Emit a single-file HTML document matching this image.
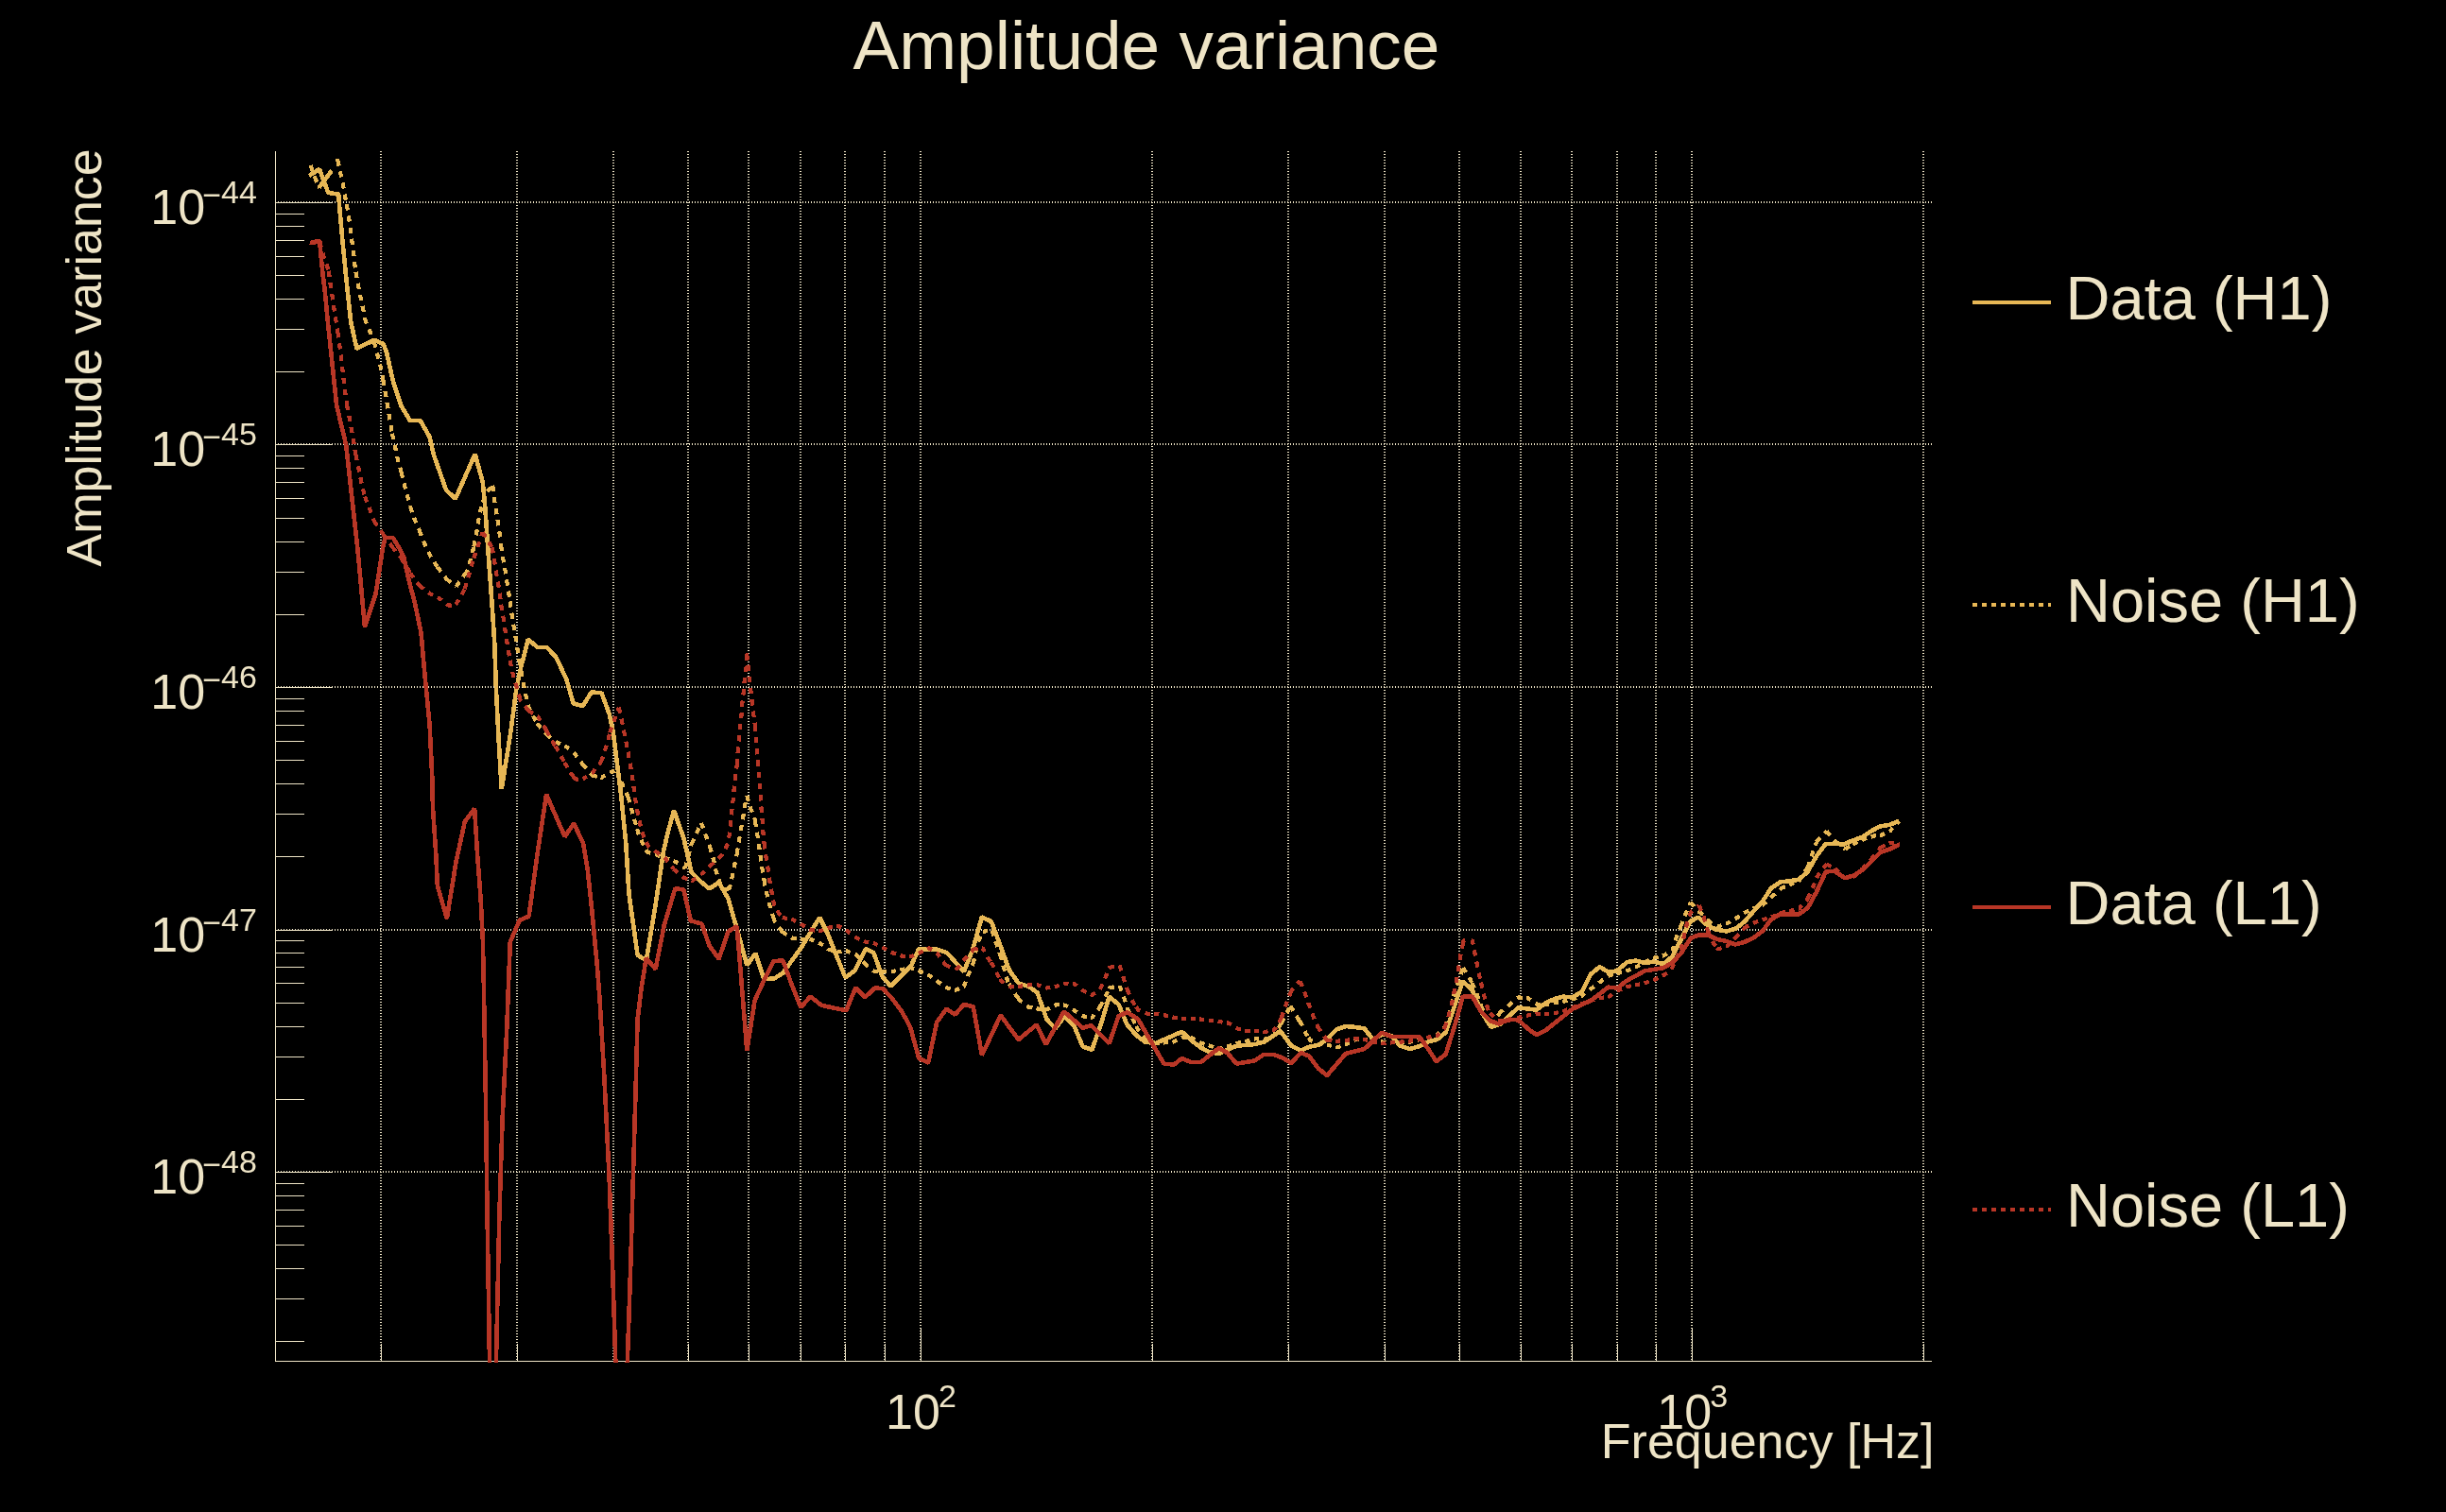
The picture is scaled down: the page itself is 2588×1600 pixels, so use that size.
<!DOCTYPE html>
<html lang="en"><head><meta charset="utf-8"><title>Amplitude variance</title>
<style>html,body{margin:0;padding:0;background:#000;}body{width:2588px;height:1600px;overflow:hidden;}svg{display:block;will-change:transform;}text{font-family:'Liberation Sans', sans-serif;fill:#EEE4C6;}</style>
</head><body>
<svg width="2588" height="1600" viewBox="0 0 2588 1600">
<rect x="0" y="0" width="2588" height="1600" fill="#000"/>
<g shape-rendering="crispEdges" stroke="#EEE4C6" stroke-width="2" stroke-dasharray="1 2" fill="none">
<line x1="403" y1="160" x2="403" y2="1440"/>
<line x1="547" y1="160" x2="547" y2="1440"/>
<line x1="649" y1="160" x2="649" y2="1440"/>
<line x1="728" y1="160" x2="728" y2="1440"/>
<line x1="792" y1="160" x2="792" y2="1440"/>
<line x1="847" y1="160" x2="847" y2="1440"/>
<line x1="894" y1="160" x2="894" y2="1440"/>
<line x1="936" y1="160" x2="936" y2="1440"/>
<line x1="974" y1="160" x2="974" y2="1440"/>
<line x1="1219" y1="160" x2="1219" y2="1440"/>
<line x1="1363" y1="160" x2="1363" y2="1440"/>
<line x1="1465" y1="160" x2="1465" y2="1440"/>
<line x1="1544" y1="160" x2="1544" y2="1440"/>
<line x1="1609" y1="160" x2="1609" y2="1440"/>
<line x1="1663" y1="160" x2="1663" y2="1440"/>
<line x1="1711" y1="160" x2="1711" y2="1440"/>
<line x1="1752" y1="160" x2="1752" y2="1440"/>
<line x1="1790" y1="160" x2="1790" y2="1440"/>
<line x1="2035" y1="160" x2="2035" y2="1440"/>
<line x1="291" y1="214" x2="2044" y2="214"/>
<line x1="291" y1="470" x2="2044" y2="470"/>
<line x1="291" y1="727" x2="2044" y2="727"/>
<line x1="291" y1="984" x2="2044" y2="984"/>
<line x1="291" y1="1240" x2="2044" y2="1240"/>
</g>
<g shape-rendering="crispEdges" fill="#EEE4C6">
<rect x="291" y="160" width="1" height="1281"/>
<rect x="291" y="1440" width="1753" height="1"/>
<rect x="403" y="1422" width="1" height="19"/>
<rect x="547" y="1422" width="1" height="19"/>
<rect x="649" y="1422" width="1" height="19"/>
<rect x="728" y="1422" width="1" height="19"/>
<rect x="792" y="1422" width="1" height="19"/>
<rect x="847" y="1422" width="1" height="19"/>
<rect x="894" y="1422" width="1" height="19"/>
<rect x="936" y="1422" width="1" height="19"/>
<rect x="974" y="1405" width="1" height="36"/>
<rect x="1219" y="1422" width="1" height="19"/>
<rect x="1363" y="1422" width="1" height="19"/>
<rect x="1465" y="1422" width="1" height="19"/>
<rect x="1544" y="1422" width="1" height="19"/>
<rect x="1609" y="1422" width="1" height="19"/>
<rect x="1663" y="1422" width="1" height="19"/>
<rect x="1711" y="1422" width="1" height="19"/>
<rect x="1752" y="1422" width="1" height="19"/>
<rect x="1790" y="1405" width="1" height="36"/>
<rect x="2035" y="1422" width="1" height="19"/>
<rect x="292" y="214" width="60" height="1"/>
<rect x="292" y="226" width="30" height="1"/>
<rect x="292" y="239" width="30" height="1"/>
<rect x="292" y="254" width="30" height="1"/>
<rect x="292" y="271" width="30" height="1"/>
<rect x="292" y="291" width="30" height="1"/>
<rect x="292" y="316" width="30" height="1"/>
<rect x="292" y="348" width="30" height="1"/>
<rect x="292" y="393" width="30" height="1"/>
<rect x="292" y="470" width="60" height="1"/>
<rect x="292" y="482" width="30" height="1"/>
<rect x="292" y="495" width="30" height="1"/>
<rect x="292" y="510" width="30" height="1"/>
<rect x="292" y="527" width="30" height="1"/>
<rect x="292" y="548" width="30" height="1"/>
<rect x="292" y="573" width="30" height="1"/>
<rect x="292" y="605" width="30" height="1"/>
<rect x="292" y="650" width="30" height="1"/>
<rect x="292" y="727" width="60" height="1"/>
<rect x="292" y="739" width="30" height="1"/>
<rect x="292" y="752" width="30" height="1"/>
<rect x="292" y="767" width="30" height="1"/>
<rect x="292" y="784" width="30" height="1"/>
<rect x="292" y="804" width="30" height="1"/>
<rect x="292" y="829" width="30" height="1"/>
<rect x="292" y="861" width="30" height="1"/>
<rect x="292" y="906" width="30" height="1"/>
<rect x="292" y="984" width="60" height="1"/>
<rect x="292" y="995" width="30" height="1"/>
<rect x="292" y="1008" width="30" height="1"/>
<rect x="292" y="1023" width="30" height="1"/>
<rect x="292" y="1040" width="30" height="1"/>
<rect x="292" y="1061" width="30" height="1"/>
<rect x="292" y="1086" width="30" height="1"/>
<rect x="292" y="1118" width="30" height="1"/>
<rect x="292" y="1163" width="30" height="1"/>
<rect x="292" y="1240" width="60" height="1"/>
<rect x="292" y="1252" width="30" height="1"/>
<rect x="292" y="1265" width="30" height="1"/>
<rect x="292" y="1280" width="30" height="1"/>
<rect x="292" y="1297" width="30" height="1"/>
<rect x="292" y="1317" width="30" height="1"/>
<rect x="292" y="1342" width="30" height="1"/>
<rect x="292" y="1374" width="30" height="1"/>
<rect x="292" y="1419" width="30" height="1"/>
</g>
<defs><clipPath id="fc"><rect x="0" y="0" width="2588" height="1442"/></clipPath></defs>
<g fill="none" stroke-width="4.6" stroke-linejoin="bevel" stroke-linecap="butt" shape-rendering="crispEdges" clip-path="url(#fc)">
<polyline stroke="#E7B755" points="327.0,186.0 338.0,179.0 347.3,204.0 358.2,205.6 358.9,215.6 362.2,252.6 366.1,292.3 371.1,340.0 377.4,368.9 395.9,359.8 405.8,364.0 409.1,373.1 415.7,402.8 424.8,430.1 433.9,445.0 444.7,445.0 454.6,462.4 458.7,480.6 472.0,518.6 481.9,527.7 502.6,480.6 510.8,510.3 513.4,538.4 516.2,580.0 519.9,629.6 523.2,679.2 524.9,728.8 527.4,778.4 530.7,835.0 539.8,778.4 546.4,728.8 551.3,705.7 558.8,676.7 568.7,685.0 578.6,685.0 588.5,695.7 599.3,718.9 606.7,744.5 616.7,747.0 625.8,732.5 636.5,733.3 644.8,755.9 648.9,775.8 653.1,808.8 657.2,841.9 662.2,891.5 665.5,946.1 674.6,1010.6 683.7,1016.4 692.8,962.7 701.9,901.5 706.8,880.0 713.1,857.6 720.9,880.0 723.3,886.6 731.6,923.0 742.4,933.7 750.6,940.4 760.6,933.7 770.5,951.1 779.6,982.5 790.3,1021.4 799.4,1009.0 808.5,1036.3 819.3,1035.4 828.4,1029.6 847.4,1003.2 867.2,970.9 875.5,987.5 894.5,1034.6 904.4,1027.2 916.0,1004.0 924.3,1008.2 933.4,1033.0 942.4,1043.7 963.9,1022.2 972.2,1004.0 992.1,1004.8 1002.0,1008.2 1019.8,1028.2 1028.9,1005.8 1038.9,970.3 1048.8,975.2 1057.9,999.2 1067.8,1026.5 1077.7,1040.6 1088.5,1043.9 1097.6,1050.5 1107.5,1078.6 1116.6,1088.5 1126.5,1075.3 1136.4,1085.2 1145.5,1107.5 1155.4,1110.8 1165.4,1081.9 1173.6,1054.6 1183.5,1062.9 1192.6,1084.4 1202.6,1095.9 1211.7,1102.6 1222.4,1104.2 1231.5,1100.1 1250.5,1091.8 1260.4,1100.9 1270.4,1108.4 1279.5,1113.3 1289.4,1115.0 1308.4,1106.7 1328.2,1105.0 1337.3,1102.6 1354.7,1091.0 1366.3,1106.7 1376.2,1111.7 1385.8,1107.5 1394.9,1105.9 1404.0,1100.1 1413.9,1089.3 1423.8,1086.0 1433.7,1086.9 1443.7,1088.5 1452.8,1100.1 1462.7,1094.3 1471.8,1096.0 1481.7,1106.7 1491.6,1110.0 1500.7,1107.5 1510.6,1102.6 1520.6,1100.1 1529.6,1092.6 1538.7,1065.4 1547.8,1038.1 1557.8,1048.0 1567.7,1071.1 1577.6,1086.9 1587.5,1083.5 1606.5,1066.2 1625.6,1068.7 1635.5,1061.2 1644.6,1057.1 1653.7,1054.6 1663.6,1055.4 1673.5,1049.6 1683.4,1030.6 1692.5,1023.2 1702.4,1029.0 1710.7,1027.3 1721.5,1018.2 1730.6,1016.6 1740.5,1019.1 1749.9,1017.6 1759.8,1020.1 1769.8,1011.8 1778.9,993.6 1788.0,975.4 1797.0,970.5 1807.0,979.6 1816.1,983.7 1826.8,985.4 1835.9,982.9 1845.8,975.4 1854.9,964.7 1864.8,953.9 1873.9,939.9 1883.9,933.3 1893.0,932.4 1902.9,930.8 1912.0,923.3 1921.9,906.0 1931.8,892.8 1940.9,892.8 1950.8,893.6 1959.9,889.5 1969.8,886.1 1979.8,879.5 1988.9,874.6 1998.8,872.9 2009.5,868.8"/>
<path stroke="#E7B755" stroke-width="4.2" d="M357.0 168.0 L357.3 169.4 M357.3 169.4 L358.6 175.5 M359.9 181.4 L360.3 183.4 L361.2 187.5 M362.5 193.4 L363.0 195.7 L363.7 199.6 M364.7 205.5 L365.0 207.5 L365.9 211.7 M366.9 216.3 L367.8 222.5 M368.7 228.4 L368.8 228.8 L369.8 234.6 M370.8 240.5 L370.8 240.7 L371.4 246.8 M372.0 252.8 L372.1 253.3 L373.0 259.0 M374.0 264.9 L374.1 265.8 L374.5 271.2 M375.0 277.2 L375.0 277.7 L375.9 283.4 M376.5 287.7 L377.0 291.0 L377.5 293.9 M378.6 299.8 L379.4 304.2 L379.8 306.0 M381.0 311.9 L382.0 316.7 L382.3 318.0 M383.5 323.9 L384.7 329.3 L384.8 330.0 M386.0 335.9 L386.1 336.6 M386.1 336.6 L386.6 339.2 L388.0 342.5 M390.3 348.2 L391.4 350.7 L392.7 353.9 M394.9 359.6 L395.7 361.7 M395.7 361.7 L396.2 363.0 L397.4 367.7 M398.9 373.5 L399.2 374.7 L400.5 379.6 M402.0 385.4 L402.5 387.1 L403.3 391.5 M404.5 397.4 L405.3 401.8 M405.3 401.8 L405.5 402.8 L406.4 407.9 M407.5 413.9 L408.0 416.9 L408.5 420.0 M409.5 426.0 L410.0 429.3 L410.5 432.2 M411.5 438.1 L412.0 440.9 L412.5 444.3 M413.5 450.2 L414.5 456.5 M414.9 458.8 L416.2 464.9 M417.5 470.8 L417.7 471.5 L418.9 476.9 M420.2 482.8 L420.4 483.9 L421.7 488.9 M423.3 494.7 L423.7 496.3 L424.5 499.6 M424.5 499.6 L425.7 504.5 L426.0 505.7 M427.5 511.5 L428.6 516.1 L429.0 517.6 M430.6 523.4 L432.0 528.5 L432.3 529.4 M433.9 535.2 L434.1 536.1 M434.1 536.1 L434.3 536.8 L436.1 542.0 M438.1 547.7 L438.6 549.2 L440.4 553.5 M442.8 559.1 L443.7 561.1 M443.7 561.1 L443.9 561.6 L445.9 566.9 M448.1 572.6 L449.3 575.6 L450.5 578.3 M453.1 583.8 L453.3 584.2 M453.3 584.2 L454.6 587.0 L456.2 589.6 M459.5 594.9 L462.0 599.0 L462.8 600.0 M462.9 600.2 L466.6 605.0 M470.3 609.9 L472.5 612.7 M472.5 612.7 L472.8 613.1 L477.2 616.4 M482.4 620.2 L482.7 620.5 M482.7 620.5 L486.2 615.6 M489.8 610.5 L491.7 607.9 M491.7 607.9 L495.1 603.2 L495.2 603.0 M496.7 597.2 L498.3 591.1 M499.7 585.2 L501.2 579.1 M501.3 578.5 L501.4 578.1 L502.5 572.4 M503.7 566.5 L504.5 562.4 L504.8 560.3 M505.7 554.4 L506.4 550.0 L506.8 548.2 M508.0 542.3 L509.2 536.8 L509.4 536.2 M510.9 531.6 L512.8 525.6 M515.5 520.3 L519.4 515.8 M521.2 513.6 L522.0 519.8 M522.7 525.8 L522.9 527.7 L523.6 532.0 M524.6 538.0 L524.9 540.1 L525.6 544.2 M526.5 550.1 L526.9 552.5 L527.5 556.3 M528.3 562.3 L528.7 564.9 L529.1 568.5 M529.8 574.5 L529.8 574.8 L530.1 577.0 M530.1 577.0 L531.0 583.2 M531.9 589.1 L533.1 595.3 M534.2 601.2 L535.1 607.4 M536.0 613.3 L537.0 619.6 M538.0 625.5 L539.0 631.7 M539.7 636.4 L539.8 637.0 L540.5 642.6 M541.3 648.6 L541.8 652.8 L542.2 654.8 M543.2 660.7 L544.2 666.0 L544.3 666.9 M545.3 672.8 L546.1 677.6 L546.3 679.0 M547.2 685.0 L548.0 690.0 L548.2 691.2 M549.2 697.1 L549.3 697.7 M549.3 697.7 L550.3 703.9 M551.4 709.8 L552.2 714.8 L552.4 716.0 M553.6 721.9 L554.6 727.2 L554.8 728.1 M556.0 734.0 L557.1 739.6 L557.2 740.1 M558.8 745.9 L558.9 746.2 M558.9 746.2 L559.6 748.7 L561.2 751.9 M564.0 757.4 L564.6 758.6 L567.0 762.7 M568.5 765.3 L569.9 767.7 L572.1 770.2 M576.2 774.9 L578.1 777.0 M578.1 777.0 L578.6 777.6 L582.7 780.8 M587.7 784.6 L589.4 785.9 L592.8 787.3 M597.3 789.3 L599.0 790.0 L601.8 792.3 M606.8 796.3 L606.9 796.4 M606.9 796.4 L607.6 797.0 L610.6 800.9 M614.3 805.9 L616.5 808.7 M616.5 808.7 L616.7 809.0 L620.4 813.3 M624.5 818.1 L626.1 820.0 M626.1 820.0 L626.6 820.6 L631.7 821.7 M635.7 822.5 L636.5 822.7 L640.4 820.5 M645.3 817.7 L647.2 816.6 L650.6 816.2 M653.0 816.0 L655.3 821.8 M657.5 827.4 L658.9 831.1 L659.9 833.2 M662.4 838.7 L664.5 843.3 M664.5 843.3 L664.6 843.5 L666.2 849.2 M667.8 855.0 L668.3 856.8 L669.5 861.1 M671.1 866.9 L671.8 869.2 L672.9 872.9 M674.1 877.1 L675.4 881.6 L676.0 883.1 M678.4 888.6 L680.4 893.2 L681.0 894.3 M683.7 899.4 L685.0 901.8 L688.3 902.8 M693.3 904.2 L695.2 904.8 L698.4 906.0 M702.9 907.6 L708.0 909.5 M712.5 911.1 L715.0 912.0 L717.3 913.6 M722.6 917.2 L725.0 918.9 M725.0 918.9 L726.5 912.8 M728.0 907.0 L729.6 900.9 M731.0 895.1 L731.3 894.0 L731.7 893.1 M731.7 893.1 L734.3 887.5 M736.8 882.0 L739.4 876.3 M741.9 870.8 L744.1 876.6 M746.2 882.3 L746.5 883.2 L748.3 888.2 M750.3 893.9 L750.9 895.5 M750.9 895.5 L751.1 896.1 L752.7 901.5 M754.3 907.3 L754.8 909.0 L755.8 913.4 M757.0 919.3 L757.3 920.5 L758.8 925.3 M760.5 930.4 L762.0 935.0 L762.8 936.1 M766.4 941.2 L767.0 942.0 L770.1 940.5 M770.1 940.5 L772.1 939.5 L772.8 936.2 M774.1 930.3 L774.6 928.0 L775.4 924.2 M776.6 918.3 L777.4 914.7 L777.9 912.2 M779.1 906.3 L779.7 903.6 M779.7 903.6 L779.8 903.1 L780.7 897.4 M781.7 891.5 L782.7 885.3 M783.7 879.3 L783.7 879.1 L784.8 873.1 M785.8 867.2 L785.9 866.7 L786.8 861.0 M787.7 855.1 L787.8 854.3 L788.9 848.9 M790.1 843.0 L790.3 841.9 M790.3 841.9 L792.0 847.9 M793.6 853.7 L793.6 853.8 L795.8 859.6 M798.0 865.2 L798.6 866.7 L798.9 868.6 M798.9 868.6 L799.9 874.8 M800.8 880.7 L801.9 886.9 M802.9 892.9 L803.7 899.1 M804.5 905.0 L805.3 911.3 M806.1 917.2 L807.2 923.4 M808.3 929.3 L808.5 931.0 M808.5 931.0 L809.3 937.0 L809.4 937.3 M810.8 943.1 L812.2 949.2 M813.7 955.1 L815.1 961.0 L815.1 961.2 M817.0 966.9 L818.1 970.5 M818.1 970.5 L819.3 974.3 L820.6 976.1 M824.2 981.2 L827.5 985.8 L827.7 985.9 M827.7 985.9 L832.5 989.0 M837.3 992.1 L839.1 993.3 L842.7 993.4 M846.9 993.6 L852.0 993.8 M856.5 994.0 L858.1 994.1 L861.3 995.5 M866.1 997.5 L867.7 998.2 L870.8 1000.4 M875.7 1003.8 L877.1 1004.8 L881.0 1005.8 M885.3 1006.8 L887.1 1007.3 L890.5 1007.0 M894.9 1006.6 L896.2 1006.5 L899.7 1008.0 M904.5 1009.9 L906.1 1010.6 L908.8 1013.3 M913.2 1017.7 L914.1 1018.6 M914.1 1018.6 L916.8 1021.4 L918.4 1022.7 M923.4 1026.7 L923.7 1026.9 M923.7 1026.9 L925.1 1028.0 L929.1 1028.0 M933.3 1028.0 L938.3 1028.0 M942.9 1028.0 L944.1 1028.0 L947.8 1027.3 M952.5 1026.4 L953.2 1026.3 L957.6 1025.2 M962.1 1024.1 L963.1 1023.9 L967.1 1025.4 M971.7 1027.0 L972.2 1027.2 L976.7 1029.2 M981.3 1031.3 L983.0 1032.1 L986.0 1034.3 M990.9 1037.8 L992.1 1038.7 L995.6 1041.1 M1000.5 1044.4 L1002.0 1045.4 L1005.8 1046.5 M1010.1 1047.8 L1010.7 1048.0 L1015.0 1046.1 M1019.7 1043.9 L1019.8 1043.9 L1021.8 1038.8 M1024.0 1033.2 L1024.0 1033.1 L1026.3 1027.4 M1028.7 1021.8 L1029.3 1020.3 M1029.3 1020.3 L1029.8 1019.1 L1030.9 1014.3 M1032.1 1008.4 L1033.5 1002.3 M1035.2 996.6 L1037.3 990.7 M1040.0 985.8 L1045.1 985.0 M1049.6 984.3 L1051.4 990.3 M1053.2 996.0 L1053.7 997.6 L1055.3 1001.9 M1057.4 1007.6 L1057.9 1009.1 L1058.1 1009.8 M1058.1 1009.8 L1059.8 1015.8 M1061.4 1021.7 L1062.5 1025.7 L1063.1 1027.7 M1064.8 1033.5 L1066.1 1038.1 L1066.8 1039.3 M1067.7 1040.9 L1070.8 1046.2 M1073.8 1051.5 L1075.2 1053.8 L1077.3 1056.2 M1077.3 1056.2 L1079.4 1058.7 L1081.5 1060.4 M1086.5 1064.5 L1086.9 1064.8 M1086.9 1064.8 L1087.6 1065.4 L1092.4 1066.4 M1096.5 1067.2 L1099.2 1067.8 L1101.7 1067.8 M1106.1 1067.8 L1108.3 1067.8 L1110.8 1066.6 M1115.7 1064.1 L1118.2 1062.9 L1121.0 1063.1 M1125.3 1063.5 L1127.3 1063.7 L1130.0 1065.3 M1134.9 1068.2 L1137.2 1069.5 L1139.7 1071.2 M1144.5 1074.6 L1145.5 1075.3 L1150.0 1076.0 M1154.1 1076.7 L1155.4 1076.9 L1157.7 1073.8 M1161.5 1068.9 L1162.9 1067.0 L1163.7 1065.6 M1163.7 1065.6 L1166.8 1060.4 M1169.6 1054.9 L1172.0 1049.2 M1173.3 1046.2 L1173.6 1045.5 L1178.9 1044.3 M1184.4 1043.0 L1186.7 1048.8 M1188.9 1054.4 L1189.0 1054.6 L1190.7 1060.4 M1192.4 1066.2 L1192.5 1066.7 M1192.5 1066.7 L1192.6 1067.0 L1195.2 1072.3 M1198.0 1077.7 L1198.4 1078.6 L1200.7 1083.2 M1202.1 1085.9 L1203.4 1088.5 L1205.5 1091.0 M1209.5 1095.8 L1211.7 1098.4 L1214.0 1099.6 M1219.7 1102.7 L1221.3 1103.6 M1221.3 1103.6 L1222.4 1104.2 L1226.8 1103.8 M1230.9 1103.5 L1236.0 1103.1 M1240.5 1102.7 L1241.4 1102.6 L1245.2 1100.7 M1250.1 1098.2 L1251.3 1097.6 L1255.5 1097.9 M1259.7 1098.3 L1261.3 1098.4 L1264.4 1100.1 M1269.3 1102.8 L1270.4 1103.4 L1274.5 1104.8 M1278.9 1106.2 L1280.3 1106.7 L1284.0 1108.0 M1288.5 1109.5 L1290.0 1110.0 L1293.7 1108.9 M1298.1 1107.6 L1300.0 1107.0 L1303.2 1105.9 M1307.7 1104.4 L1309.0 1104.0 L1312.9 1103.1 M1317.3 1102.1 L1319.1 1101.7 L1322.4 1100.8 M1326.9 1099.6 L1328.2 1099.3 L1332.2 1099.6 M1336.5 1100.0 L1337.3 1100.1 L1341.4 1098.7 M1346.1 1097.2 L1347.3 1096.8 L1349.4 1093.2 M1352.6 1088.0 L1355.7 1082.7 M1355.7 1082.7 L1357.2 1080.2 L1358.7 1077.4 M1361.5 1072.0 L1364.4 1066.5 M1365.4 1064.5 L1368.5 1069.8 M1371.5 1075.1 L1372.1 1076.1 L1374.9 1080.3 M1374.9 1080.3 L1377.0 1083.5 L1378.0 1085.6 M1380.5 1091.1 L1382.0 1094.3 L1383.5 1096.5 M1384.5 1097.9 L1386.6 1100.9 L1388.8 1101.9 M1394.1 1104.3 L1395.7 1105.0 L1399.5 1105.4 M1403.7 1105.8 L1404.8 1105.9 L1408.7 1106.9 M1413.3 1108.0 L1414.7 1108.4 L1418.4 1107.1 M1422.9 1105.6 L1424.6 1105.0 L1427.9 1103.4 M1432.5 1101.1 L1434.6 1100.1 L1437.8 1100.1 M1442.1 1100.0 L1444.0 1100.0 L1447.0 1100.7 M1451.7 1101.7 L1453.0 1102.0 L1456.9 1102.2 M1461.3 1102.5 L1463.0 1102.6 L1466.4 1102.9 M1470.9 1103.3 L1472.6 1103.4 L1476.0 1103.1 M1480.5 1102.7 L1481.7 1102.6 L1485.6 1102.6 M1490.1 1102.6 L1491.6 1102.6 L1495.0 1101.7 M1499.7 1100.6 L1501.5 1100.1 L1504.9 1099.3 M1509.3 1098.1 L1511.5 1097.6 L1514.4 1096.8 M1518.9 1095.6 L1520.6 1095.1 L1523.3 1092.7 M1528.0 1088.5 L1528.5 1087.1 M1528.5 1087.1 L1530.6 1081.2 M1532.5 1075.5 L1534.2 1069.5 M1535.8 1063.7 L1537.3 1057.6 M1538.1 1054.5 L1538.7 1052.1 L1539.8 1048.5 M1541.7 1042.7 L1542.9 1038.9 L1543.6 1036.8 M1545.5 1031.1 L1547.4 1025.1 M1547.8 1024.0 L1551.1 1029.1 M1554.5 1034.3 L1555.3 1035.6 L1557.2 1039.7 M1557.3 1040.1 L1559.8 1045.7 M1562.3 1051.3 L1562.7 1052.1 L1564.5 1057.0 M1566.6 1062.7 L1566.9 1063.5 M1566.9 1063.5 L1569.0 1069.4 M1571.7 1074.8 L1574.7 1080.1 M1577.6 1085.0 L1581.1 1080.1 M1584.7 1075.0 L1586.1 1073.1 M1586.1 1073.1 L1587.5 1071.1 L1590.3 1068.8 M1595.2 1064.7 L1595.7 1064.3 M1595.7 1064.3 L1597.4 1062.9 L1600.2 1060.6 M1605.1 1056.5 L1605.3 1056.4 M1605.3 1056.4 L1606.5 1055.4 L1610.8 1055.8 M1614.9 1056.2 L1616.5 1056.3 L1619.4 1058.2 M1624.5 1061.6 L1626.4 1062.9 L1629.8 1062.9 M1634.1 1063.0 L1635.5 1063.0 L1639.0 1062.3 M1643.7 1061.4 L1644.6 1061.2 L1648.9 1060.5 M1653.3 1059.8 L1654.5 1059.6 L1658.4 1058.6 M1662.9 1057.5 L1664.4 1057.1 L1667.9 1055.8 M1672.5 1054.2 L1673.5 1053.8 L1677.0 1051.2 M1682.1 1047.3 L1682.1 1047.3 M1682.1 1047.3 L1683.4 1046.3 L1686.7 1043.8 M1691.7 1040.2 L1693.4 1038.9 L1696.4 1036.7 M1701.3 1033.1 L1702.4 1032.3 L1706.7 1031.2 M1710.9 1030.2 L1712.4 1029.8 L1716.0 1028.8 M1720.5 1027.6 L1721.5 1027.3 L1725.5 1025.7 M1730.1 1023.7 L1731.4 1023.2 L1735.0 1021.2 M1739.7 1018.5 L1740.5 1018.0 L1744.8 1016.1 M1749.3 1014.1 L1750.7 1013.5 L1754.6 1012.5 M1758.9 1011.5 L1760.7 1011.0 L1763.6 1009.1 M1768.5 1006.0 L1769.8 1005.2 L1770.9 1001.2 M1772.6 995.4 L1773.1 993.6 L1774.7 989.5 M1776.9 983.9 L1778.1 980.8 M1778.1 980.8 L1778.9 978.7 L1780.4 975.0 M1782.6 969.3 L1783.8 966.3 L1785.0 963.6 M1787.4 958.0 L1788.8 954.8 M1788.8 954.8 L1792.5 959.5 M1796.5 964.3 L1797.3 964.8 M1797.3 964.8 L1802.1 967.8 M1806.5 972.5 L1806.9 973.1 M1806.9 973.1 L1808.6 975.4 L1811.4 976.9 M1816.5 979.7 L1817.7 980.4 L1821.7 979.1 M1826.1 977.6 L1827.6 977.1 L1830.9 975.2 M1835.7 972.4 L1837.6 971.3 L1840.5 969.4 M1845.3 966.4 L1846.7 965.5 L1850.3 963.7 M1854.9 961.5 L1856.0 961.0 L1860.0 959.4 M1864.5 957.7 L1865.7 957.2 L1868.8 954.4 M1873.5 950.2 L1874.1 949.6 M1874.1 949.6 L1874.8 949.0 L1878.4 945.7 M1883.1 941.4 L1883.7 940.8 M1883.7 940.8 L1884.7 939.9 L1888.9 938.2 M1893.3 936.3 L1894.6 935.8 L1898.3 934.1 M1902.9 932.0 L1904.0 931.5 L1906.3 927.8 M1909.5 922.6 L1912.5 917.7 M1912.5 917.7 L1913.6 915.9 L1914.8 912.1 M1916.6 906.3 L1917.8 902.7 L1918.6 900.4 M1920.8 894.7 L1922.1 891.1 M1922.1 891.1 L1922.7 889.5 L1925.9 886.3 M1930.3 881.8 L1932.6 879.5 M1932.6 879.5 L1936.4 884.1 M1940.4 888.9 L1940.9 889.5 L1941.3 889.8 M1941.3 889.8 L1945.9 893.4 M1950.9 897.3 L1952.5 898.5 M1952.5 898.5 L1957.3 895.5 M1960.5 893.5 L1961.6 892.8 L1965.6 891.0 M1970.1 888.9 L1972.0 888.0 L1975.3 887.0 M1979.7 885.6 L1983.1 884.5 L1984.9 884.3 M1989.3 883.8 L1990.5 883.7 L1994.1 882.1 M1998.9 879.8 L1999.6 879.5 L2002.9 876.0 M2007.2 871.5 L2008.5 870.1 M2008.5 870.1 L2009.5 869.0"/>
<polyline stroke="#B83626" points="329.7,258.8 330.0,256.3 338.2,255.0 339.9,273.6 341.6,290.6 343.7,307.5 346.8,340.0 356.2,429.3 366.1,470.6 378.5,582.0 386.0,663.5 397.6,628.0 405.0,580.0 407.5,569.0 415.8,569.0 422.4,580.0 427.3,589.9 432.3,613.1 438.9,637.9 445.5,669.3 449.6,715.6 454.6,766.9 457.4,825.0 457.9,853.1 461.2,902.7 462.9,937.4 472.8,972.1 482.7,911.0 491.8,869.6 502.1,855.6 505.0,902.7 508.7,952.3 510.8,993.6 511.8,1040.0 513.8,1155.8 515.6,1288.1 520.9,1623.0 528.3,1288.1 531.7,1182.3 536.2,1089.7 538.1,1040.0 539.8,996.9 549.7,973.8 559.6,969.6 568.7,902.7 578.1,840.7 588.5,864.6 597.6,885.3 607.2,871.3 617.2,892.8 621.6,919.2 626.6,966.0 632.0,1024.0 634.7,1060.0 639.5,1142.0 644.7,1248.4 648.1,1341.0 657.4,1630.0 667.2,1341.0 669.8,1248.4 672.5,1155.8 674.6,1078.4 678.7,1045.4 683.7,1013.9 693.6,1025.5 702.7,979.2 714.3,940.4 723.3,941.2 730.8,974.3 742.4,977.6 750.6,1000.7 760.6,1014.8 770.5,985.8 779.6,980.0 783.7,1028.8 790.3,1111.5 798.6,1058.6 808.5,1037.1 818.4,1017.2 828.4,1016.4 838.3,1043.7 847.4,1066.0 857.3,1054.5 868.9,1063.5 875.5,1065.2 895.3,1069.3 905.2,1045.4 915.2,1055.3 925.9,1045.4 934.2,1046.2 944.1,1056.9 954.0,1070.2 963.1,1086.7 972.2,1119.8 982.1,1124.7 991.2,1081.7 1001.2,1067.7 1010.7,1073.6 1019.8,1062.9 1029.8,1065.4 1038.9,1116.6 1058.7,1074.5 1077.7,1100.1 1096.7,1084.4 1106.7,1105.0 1125.7,1070.3 1145.5,1087.7 1154.6,1085.2 1173.6,1104.2 1183.5,1075.3 1192.6,1071.1 1204.2,1078.6 1231.5,1125.7 1242.2,1126.5 1250.5,1119.9 1260.4,1124.1 1270.4,1124.1 1289.4,1109.2 1298.5,1114.1 1308.4,1125.7 1327.4,1122.4 1337.3,1115.8 1347.3,1115.8 1356.3,1119.1 1366.3,1124.9 1376.2,1114.1 1385.0,1117.4 1394.9,1130.7 1404.0,1138.1 1423.8,1115.0 1443.7,1110.0 1461.9,1092.6 1471.8,1096.8 1501.5,1096.8 1510.6,1109.2 1519.7,1123.2 1529.6,1115.8 1538.7,1086.9 1547.8,1054.6 1557.8,1054.6 1566.9,1070.3 1576.8,1080.2 1585.9,1083.5 1596.6,1078.6 1606.5,1079.4 1616.5,1088.5 1625.6,1095.1 1635.5,1090.2 1663.6,1067.8 1683.4,1058.7 1701.6,1044.7 1711.5,1045.5 1720.6,1038.1 1740.5,1027.3 1749.9,1025.9 1759.8,1024.2 1769.8,1018.4 1778.9,1008.5 1788.8,992.8 1797.0,989.5 1807.0,989.5 1816.1,993.6 1826.8,996.1 1835.9,999.4 1845.8,996.9 1855.8,992.0 1864.8,985.4 1873.9,973.0 1883.9,967.2 1903.7,967.2 1912.8,960.6 1921.9,944.0 1931.8,922.5 1940.9,921.7 1951.7,929.1 1960.8,926.7 1971.5,920.0 1979.8,911.8 1989.7,901.9 1999.6,898.5 2009.5,893.6"/>
<path stroke="#B83626" stroke-width="4.2" d="M329.0 257.0 L334.1 256.4 M338.0 256.0 L339.8 262.0 M341.5 267.8 L343.2 273.8 M345.3 279.5 L347.4 285.3 M347.7 286.7 L348.7 292.9 M349.4 298.9 L350.0 303.5 L350.3 305.1 M351.2 311.1 L352.0 316.0 L352.2 317.3 M353.0 323.2 L353.8 328.7 L353.9 329.5 M354.9 335.4 L355.8 341.2 L355.9 341.6 M356.8 347.5 L357.3 351.1 M357.3 351.1 L357.8 354.4 L358.2 357.3 M359.0 363.3 L359.9 369.5 M360.7 375.5 L361.4 381.7 M362.0 387.7 L362.7 393.9 M363.4 399.9 L363.7 402.8 L364.1 406.2 M364.9 412.1 L365.7 418.3 M366.5 424.3 L366.9 427.7 M366.9 427.7 L367.0 428.5 L368.1 433.9 M369.3 439.8 L369.5 440.9 L370.4 446.0 M371.5 451.9 L371.9 454.1 L372.6 458.1 M373.7 464.0 L373.9 464.8 L374.7 470.2 M375.5 476.1 L375.7 477.2 L376.5 481.2 M376.5 481.2 L377.7 487.2 L377.7 487.4 M378.9 493.3 L380.2 499.4 M381.4 505.3 L382.6 511.5 M384.0 517.3 L385.5 523.4 M386.1 525.5 L388.3 531.3 M390.5 536.9 L391.4 539.3 L392.7 542.8 M394.7 548.5 L395.7 551.1 M395.7 551.1 L395.9 551.7 L399.1 556.3 M402.6 561.4 L403.3 562.4 L405.3 565.3 M405.3 565.3 L408.8 570.2 M412.4 575.2 L414.9 578.5 M414.9 578.5 L416.0 580.0 L418.8 583.2 M422.8 587.9 L423.2 588.3 L424.5 590.5 M424.5 590.5 L427.7 595.7 M430.8 601.0 L434.0 606.2 M434.1 606.4 L435.6 608.9 L437.6 611.4 M441.3 616.4 L443.7 619.4 M443.7 619.4 L443.9 619.7 L448.4 623.2 M453.3 627.0 L454.6 628.0 L458.3 629.8 M462.9 632.1 L464.5 632.9 L467.5 635.2 M472.5 639.1 L474.1 640.4 L477.9 640.7 M482.1 639.5 L485.2 635.4 L485.6 634.6 M488.5 629.3 L491.5 623.9 M491.7 623.2 L493.6 617.2 M495.3 611.4 L496.9 605.4 M498.5 599.5 L500.4 593.6 M501.3 590.7 L502.6 586.6 L503.2 584.8 M505.2 579.0 L506.7 574.8 L507.3 573.2 M509.3 567.4 L510.8 563.2 M510.8 563.2 L514.0 568.4 M517.2 573.7 L517.4 574.0 L520.2 579.0 M520.5 579.5 L520.8 580.0 L521.8 585.4 M522.9 591.4 L522.9 591.6 L523.8 597.6 M524.7 603.5 L524.9 604.8 L525.7 609.7 M526.7 615.6 L527.0 617.2 L527.8 621.8 M528.8 627.8 L529.0 628.8 L529.5 634.0 M530.1 639.6 L531.2 645.8 M532.2 651.7 L533.2 657.9 M534.1 663.8 L535.0 670.1 M535.8 676.0 L536.9 682.2 M537.9 688.1 L538.9 694.3 M539.7 698.8 L540.3 702.4 L540.9 705.0 M542.2 710.9 L543.1 714.8 L543.7 716.9 M545.4 722.8 L546.4 726.3 L547.1 728.8 M548.8 734.6 L549.3 736.3 M549.3 736.3 L550.5 740.4 L551.7 742.0 M555.4 746.9 L558.9 751.7 M558.9 751.7 L559.1 752.0 L563.9 755.1 M568.5 758.0 L569.5 758.6 L571.8 762.5 M575.0 767.7 L576.5 770.2 L578.1 773.0 M578.1 773.1 L581.1 778.5 M584.0 783.8 L584.7 785.0 L587.3 789.0 M587.7 789.6 L588.5 790.8 L590.7 794.9 M593.6 800.3 L594.3 801.6 L596.6 805.6 M597.3 806.9 L598.5 809.0 L600.4 812.2 M603.5 817.5 L604.3 818.9 L606.9 822.0 M606.9 822.0 L609.2 824.7 L611.6 824.5 M616.5 824.0 L617.5 823.9 L620.9 821.6 M626.1 818.1 L626.6 817.8 L629.9 813.9 M634.0 809.2 L634.9 808.1 L635.7 806.2 M635.7 806.2 L638.1 800.5 M639.9 794.7 L641.8 788.7 M643.4 782.9 L644.9 776.8 M645.3 775.4 L645.6 774.2 L647.3 769.5 M649.4 763.8 L650.6 760.5 L651.5 757.9 M653.5 752.2 L654.7 748.6 M654.7 748.6 L656.1 754.7 M657.4 760.6 L657.6 761.4 L658.7 766.7 M659.9 772.6 L660.1 773.4 L661.2 778.8 M662.4 784.7 L662.6 785.8 L663.6 790.8 M664.5 795.6 L665.0 798.2 L665.6 801.8 M666.6 807.7 L667.1 810.6 L667.6 813.9 M668.6 819.9 L669.1 823.0 L669.5 826.1 M670.4 832.0 L670.9 835.5 L671.3 838.2 M672.1 844.2 L672.5 847.5 L673.0 850.4 M674.1 856.3 L674.1 856.5 M674.1 856.5 L675.0 861.5 L675.2 862.6 M676.5 868.5 L677.9 874.6 M679.6 880.4 L681.4 886.4 M683.7 891.4 L686.0 895.4 L687.2 896.3 M692.5 900.0 L693.3 900.6 M693.3 900.6 L695.2 901.9 L697.9 904.0 M702.9 907.7 L704.0 908.5 L706.7 912.0 M710.5 916.9 L712.5 919.6 M712.5 919.6 L712.6 919.7 L717.1 923.5 M721.9 927.6 L722.1 927.8 M722.1 927.8 L723.3 928.8 L727.3 930.3 M731.7 931.8 L732.4 932.1 L736.2 929.3 M741.3 925.6 L741.5 925.5 L745.6 921.8 M750.3 917.5 L750.9 916.9 M750.9 916.9 L751.5 916.4 L755.2 912.9 M759.8 908.6 L760.5 908.0 M760.5 908.0 L763.9 904.8 L764.5 903.7 M767.3 898.3 L770.1 892.8 M771.1 886.8 L771.8 883.0 L772.0 880.6 M772.6 874.6 L773.0 870.0 L773.2 868.3 M773.8 862.4 L774.3 857.6 L774.5 856.1 M775.2 850.1 L775.8 845.2 L775.9 843.9 M776.4 837.9 L776.8 832.8 L777.0 831.6 M777.7 825.7 L778.4 820.4 L778.5 819.4 M779.2 813.5 L779.7 809.0 M779.7 809.0 L779.9 807.2 L780.2 802.7 M780.6 796.7 L780.7 794.8 L781.2 790.4 M781.8 784.5 L782.0 782.4 L782.3 778.2 M782.7 772.2 L782.9 769.1 L783.3 765.9 M784.1 760.0 L784.5 756.7 L784.7 753.7 M785.2 747.7 L785.4 744.3 L785.7 741.5 M786.3 735.5 L786.7 731.9 L786.9 729.2 M787.4 723.2 L787.8 718.7 L788.0 717.0 M788.9 711.0 L789.6 706.3 L789.7 704.8 M789.9 698.8 L790.2 692.5 M790.2 691.4 L790.8 697.7 M791.4 703.6 L792.0 709.9 M792.5 715.9 L792.8 718.7 L793.2 722.1 M794.0 728.1 L794.5 731.9 L794.8 734.3 M795.4 740.3 L795.8 744.3 L796.1 746.6 M796.9 752.5 L797.4 756.7 L797.7 758.8 M798.5 764.7 L798.9 767.6 M798.9 767.6 L799.1 769.1 L799.4 773.9 M799.7 779.9 L799.9 783.2 L800.2 786.2 M800.8 792.2 L801.1 795.6 L801.3 798.4 M801.7 804.4 L801.9 808.0 L802.1 810.7 M802.7 816.7 L803.0 820.4 L803.2 822.9 M803.6 828.9 L804.0 833.6 L804.1 835.2 M804.6 841.2 L804.9 846.0 L805.0 847.5 M805.4 853.5 L805.7 858.4 L805.8 859.8 M806.4 865.7 L806.9 870.8 L807.0 872.0 M807.3 878.0 L807.7 884.0 L807.7 884.3 M808.3 890.2 L808.5 892.2 M808.5 892.2 L809.0 897.3 L809.2 898.4 M810.1 904.4 L811.1 910.6 M812.1 916.5 L813.2 922.7 M814.0 928.7 L814.8 934.9 M815.9 940.8 L817.1 947.0 M818.1 952.4 L819.2 958.6 M822.3 963.6 L825.8 968.6 M827.7 970.9 L832.9 972.1 M837.3 973.0 L839.1 973.4 L842.1 975.1 M846.9 977.7 L848.2 978.4 L851.8 980.5 M856.5 983.3 L858.1 984.2 L861.9 984.5 M866.1 984.8 L868.0 985.0 L871.0 983.9 M875.7 982.2 L877.1 981.7 L881.0 981.0 M885.3 980.3 L887.1 980.0 L890.1 981.6 M894.9 984.3 L896.2 985.0 L899.5 987.5 M904.5 991.2 L906.1 992.4 L909.6 993.9 M914.1 995.8 L916.0 996.6 L919.4 997.2 M923.7 998.0 L925.1 998.2 L928.5 999.9 M933.3 1002.3 L935.0 1003.2 L938.2 1005.0 M942.9 1007.5 L944.1 1008.2 L948.1 1009.5 M952.5 1011.0 L954.0 1011.5 L957.8 1011.8 M962.1 1012.2 L963.9 1012.3 L966.9 1010.9 M971.7 1008.8 L973.0 1008.2 L976.7 1006.4 M981.3 1004.1 L983.0 1003.2 L986.1 1005.1 M990.9 1008.0 L991.2 1008.2 L994.3 1012.5 M997.9 1017.6 L1000.3 1021.0 L1000.5 1021.1 M1000.5 1021.1 L1005.5 1023.5 M1011.4 1026.4 L1011.6 1026.5 M1011.6 1026.5 L1015.4 1021.8 M1019.2 1016.9 L1019.7 1016.4 M1019.7 1016.4 L1021.5 1014.1 L1023.6 1011.8 M1027.9 1007.2 L1029.3 1005.6 M1029.3 1005.6 L1030.6 1004.2 L1034.6 1003.8 M1038.9 1003.4 L1039.7 1003.3 L1041.7 1007.1 M1044.6 1012.5 L1045.5 1014.1 L1048.0 1017.6 M1048.5 1018.3 L1049.6 1019.9 L1051.5 1023.6 M1054.2 1029.1 L1055.4 1031.5 L1057.2 1034.4 M1058.1 1035.8 L1059.5 1038.1 L1062.4 1040.0 M1067.7 1043.3 L1068.6 1043.9 L1073.2 1043.9 M1077.3 1043.9 L1078.5 1043.9 L1082.2 1043.3 M1086.9 1042.5 L1088.5 1042.2 L1092.1 1042.2 M1096.5 1042.2 L1097.6 1042.2 L1101.3 1043.4 M1106.1 1045.0 L1107.5 1045.5 L1111.4 1044.9 M1115.7 1044.2 L1117.4 1043.9 L1120.7 1042.9 M1125.3 1041.5 L1128.2 1040.6 L1130.5 1040.8 M1134.9 1041.2 L1137.2 1041.4 L1139.4 1043.1 M1144.4 1047.1 L1144.5 1047.2 M1144.5 1047.2 L1145.5 1048.0 L1149.5 1050.0 M1154.1 1052.3 L1155.4 1053.0 L1158.8 1050.6 M1163.9 1046.8 L1166.5 1041.2 M1169.0 1035.7 L1171.3 1029.9 M1173.3 1024.8 L1173.6 1024.0 L1178.9 1022.8 M1184.4 1021.5 L1186.4 1027.4 M1188.3 1033.2 L1188.5 1033.9 L1190.1 1039.1 M1191.9 1044.9 L1192.5 1046.9 M1192.5 1046.9 L1192.6 1047.2 L1195.1 1052.5 M1197.7 1058.1 L1198.4 1059.6 L1200.8 1063.4 M1202.1 1065.4 L1204.2 1068.7 L1206.2 1069.5 M1211.7 1071.8 L1214.1 1072.8 L1217.0 1072.8 M1221.3 1072.8 L1223.2 1072.8 L1226.3 1073.3 M1230.9 1074.1 L1233.2 1074.5 L1236.0 1075.2 M1240.5 1076.4 L1242.2 1076.9 L1245.8 1077.2 M1250.1 1077.6 L1252.2 1077.8 L1255.2 1077.9 M1259.7 1078.1 L1264.8 1078.3 M1269.3 1078.5 L1271.2 1078.6 L1274.3 1079.0 M1278.9 1079.6 L1284.0 1080.3 M1288.5 1080.9 L1290.2 1081.1 L1293.6 1081.7 M1298.1 1082.4 L1300.1 1082.7 L1302.8 1084.4 M1307.7 1087.5 L1309.2 1088.5 L1313.0 1089.4 M1317.3 1090.4 L1320.0 1091.0 L1322.5 1091.0 M1326.9 1091.0 L1329.1 1091.0 L1331.9 1091.2 M1336.5 1091.6 L1339.0 1091.8 L1341.5 1091.2 M1346.1 1090.0 L1348.9 1089.3 L1350.1 1087.2 M1353.2 1081.9 L1355.5 1077.8 L1355.7 1077.2 M1355.7 1077.2 L1357.8 1071.3 M1359.8 1065.6 L1361.3 1061.2 L1361.9 1059.8 M1364.1 1054.1 L1365.3 1051.3 M1365.3 1051.3 L1366.3 1048.8 L1368.6 1046.1 M1372.6 1041.4 L1375.4 1038.1 M1375.4 1038.1 L1377.8 1043.8 M1380.2 1049.4 L1380.3 1049.6 L1382.2 1055.3 M1384.2 1061.0 L1384.5 1062.0 L1386.3 1066.8 M1388.4 1072.5 L1389.4 1075.3 L1390.7 1078.3 M1393.1 1083.9 L1394.1 1086.2 M1394.1 1086.2 L1394.4 1086.9 L1397.5 1091.4 M1401.0 1096.5 L1403.7 1100.5 M1403.7 1100.5 L1404.0 1100.9 L1409.5 1101.3 M1413.3 1101.6 L1414.7 1101.7 L1418.4 1101.4 M1422.9 1101.0 L1424.6 1100.9 L1428.0 1100.4 M1432.5 1099.6 L1434.6 1099.3 L1437.7 1099.6 M1442.1 1100.0 L1443.7 1100.1 L1447.1 1101.0 M1451.7 1102.2 L1453.0 1102.5 L1456.9 1103.1 M1461.3 1103.8 L1463.5 1104.2 L1466.5 1103.9 M1470.9 1103.5 L1472.6 1103.4 L1476.0 1103.1 M1480.5 1102.8 L1482.5 1102.6 L1485.6 1102.2 M1490.1 1101.7 L1492.0 1101.5 L1495.2 1101.0 M1499.7 1100.3 L1501.5 1100.0 L1504.8 1099.2 M1509.3 1098.1 L1511.5 1097.6 L1514.5 1097.0 M1518.9 1096.2 L1520.6 1095.9 L1523.2 1093.6 M1527.9 1089.3 L1528.0 1089.3 L1528.5 1087.8 M1528.5 1087.8 L1530.5 1081.9 M1532.3 1076.1 L1534.0 1070.1 M1535.6 1064.3 L1536.9 1058.1 M1538.1 1052.2 L1538.1 1052.1 M1538.1 1052.1 L1539.4 1046.0 M1540.6 1040.1 L1541.6 1033.9 M1542.6 1027.9 L1543.7 1021.7 M1544.6 1015.8 L1545.6 1009.6 M1546.8 1003.7 L1547.7 999.5 M1547.7 999.5 L1548.7 995.1 L1550.4 995.1 M1557.3 995.1 L1557.8 995.1 L1558.7 999.5 M1559.8 1005.4 L1560.2 1007.5 L1561.0 1011.6 M1562.2 1017.5 L1562.7 1019.9 L1563.5 1023.6 M1564.6 1029.5 L1565.2 1032.3 L1566.0 1035.7 M1566.9 1039.5 L1568.3 1045.6 M1569.8 1051.5 L1571.3 1057.5 M1573.0 1063.3 L1574.8 1069.3 M1576.5 1071.7 L1580.7 1075.8 M1585.3 1080.0 L1586.1 1080.0 M1586.1 1080.0 L1591.1 1080.0 M1595.7 1080.0 L1596.0 1080.0 L1600.5 1078.6 M1605.3 1077.2 L1606.0 1077.0 L1610.5 1075.9 M1614.9 1074.9 L1616.5 1074.5 L1620.1 1073.9 M1624.5 1073.2 L1627.2 1072.8 L1629.7 1072.8 M1634.1 1072.8 L1636.3 1072.8 L1639.1 1072.6 M1643.7 1072.1 L1645.4 1072.0 L1648.7 1071.2 M1653.3 1070.0 L1655.3 1069.5 L1658.3 1068.3 M1662.9 1066.4 L1664.0 1066.0 L1668.0 1064.4 M1672.5 1062.6 L1674.0 1062.0 L1677.7 1060.8 M1682.1 1059.3 L1683.0 1059.0 L1687.3 1057.8 M1691.7 1056.5 L1692.5 1056.3 L1697.0 1055.5 M1701.3 1054.8 L1702.4 1054.6 L1705.8 1052.3 M1710.9 1049.0 L1712.4 1048.0 L1716.0 1046.5 M1720.5 1044.6 L1722.3 1043.9 L1725.8 1043.2 M1730.1 1042.4 L1731.4 1042.2 L1735.2 1041.4 M1739.7 1040.4 L1741.5 1040.0 L1744.7 1038.8 M1749.3 1037.1 L1750.7 1036.6 L1754.3 1034.9 M1758.9 1032.6 L1760.7 1031.7 L1763.7 1029.7 M1768.5 1025.8 L1771.1 1020.2 M1773.7 1014.7 L1776.3 1009.1 M1778.1 1005.2 L1778.9 1003.5 L1779.9 999.3 M1781.2 993.5 L1782.6 987.3 M1784.0 981.5 L1784.6 978.7 L1785.6 975.4 M1787.5 969.7 L1787.7 969.0 M1787.7 969.0 L1788.8 965.5 L1790.8 963.9 M1795.8 959.8 L1797.9 958.1 M1797.9 958.1 L1800.2 963.9 M1802.4 969.5 L1802.8 970.5 L1804.1 975.5 M1805.7 981.3 L1806.1 982.9 L1806.9 984.7 M1806.9 984.7 L1809.4 990.3 M1811.9 995.9 L1812.8 997.8 L1815.2 1001.1 M1816.5 1002.8 L1817.7 1004.4 L1821.5 1003.1 M1826.1 1001.6 L1827.6 1001.1 L1830.3 998.4 M1834.8 993.9 L1835.7 993.0 M1835.7 993.0 L1837.6 991.1 L1839.8 988.7 M1844.0 984.1 L1845.3 982.7 M1845.3 982.7 L1846.7 981.2 L1850.2 979.5 M1854.9 977.1 L1856.6 976.3 L1860.1 975.0 M1864.5 973.4 L1865.7 973.0 L1869.7 971.7 M1874.1 970.3 L1875.0 970.0 L1879.1 968.3 M1883.7 966.5 L1885.0 966.0 L1889.0 965.1 M1893.3 964.2 L1894.0 964.0 L1898.4 962.8 M1902.9 961.6 L1903.7 961.4 L1906.7 958.1 M1911.0 953.4 L1912.0 952.3 L1912.5 951.2 M1912.5 951.2 L1915.1 945.6 M1917.7 940.1 L1917.8 939.9 L1920.0 934.4 M1922.1 929.0 L1922.7 927.5 L1925.4 923.8 M1929.2 918.9 L1932.6 914.3 M1932.6 914.3 L1937.5 917.1 M1941.3 919.3 L1942.6 920.0 L1945.5 922.9 M1950.0 927.4 L1950.9 928.3 M1950.9 928.3 L1951.7 929.1 L1956.4 928.3 M1960.5 927.7 L1961.6 927.5 L1964.6 924.8 M1969.3 920.5 L1970.1 919.8 M1970.1 919.8 L1971.0 919.0 L1974.1 915.5 M1978.3 910.9 L1979.7 909.4 M1979.7 909.4 L1979.8 909.3 L1983.4 904.8 M1987.3 899.9 L1989.3 897.4 M1989.3 897.4 L1989.7 896.9 L1994.6 894.6 M1998.9 892.6 L2000.4 891.9 L2004.2 892.6 M2008.5 893.4 L2009.5 893.6"/>
<polyline stroke="#E7B755" points="337.5,198.5 351,180.5"/>
<polyline stroke="#E7B755" stroke-width="4.2" stroke-dasharray="6.8 5.3" points="328.5,175 334,190 338.5,199"/>
</g>
<g shape-rendering="crispEdges" fill="none" stroke-width="4">
<line x1="2087" y1="320" x2="2170" y2="320" stroke="#E7B755"/>
<line x1="2087" y1="640" x2="2170" y2="640" stroke="#E7B755" stroke-dasharray="5 5"/>
<line x1="2087" y1="960" x2="2170" y2="960" stroke="#B83626"/>
<line x1="2087" y1="1280" x2="2170" y2="1280" stroke="#B83626" stroke-dasharray="5 5"/>
</g>
<text x="2185.6" y="338.2" font-size="65">Data (H1)</text>
<text x="2186.0" y="658.2" font-size="65">Noise (H1)</text>
<text x="2185.6" y="978.2" font-size="65">Data (L1)</text>
<text x="2186.0" y="1298.2" font-size="65">Noise (L1)</text>
<text x="1213" y="73" font-size="73" text-anchor="middle">Amplitude variance</text>
<text transform="translate(107.3,599.5) rotate(-90)" font-size="52">Amplitude variance</text>
<text x="2046.4" y="1543" font-size="52" text-anchor="end">Frequency [Hz]</text>
<g>
<text x="159.3" y="237.1" font-size="52">10</text>
<text x="214.2" y="215.1" font-size="34"><tspan dy="2.8">−</tspan><tspan dy="-2.8">44</tspan></text>
<text x="159.3" y="493.1" font-size="52">10</text>
<text x="214.2" y="471.1" font-size="34"><tspan dy="2.8">−</tspan><tspan dy="-2.8">45</tspan></text>
<text x="159.3" y="750.1" font-size="52">10</text>
<text x="214.2" y="728.1" font-size="34"><tspan dy="2.8">−</tspan><tspan dy="-2.8">46</tspan></text>
<text x="159.3" y="1007.1" font-size="52">10</text>
<text x="214.2" y="985.1" font-size="34"><tspan dy="2.8">−</tspan><tspan dy="-2.8">47</tspan></text>
<text x="159.3" y="1263.1" font-size="52">10</text>
<text x="214.2" y="1241.1" font-size="34"><tspan dy="2.8">−</tspan><tspan dy="-2.8">48</tspan></text>
<text x="937.1" y="1512.3" font-size="52">10</text>
<text x="993.0" y="1489.3" font-size="34">2</text>
<text x="1753.3" y="1512.3" font-size="52">10</text>
<text x="1809.2" y="1489.3" font-size="34">3</text>
</g>
</svg>
</body></html>
